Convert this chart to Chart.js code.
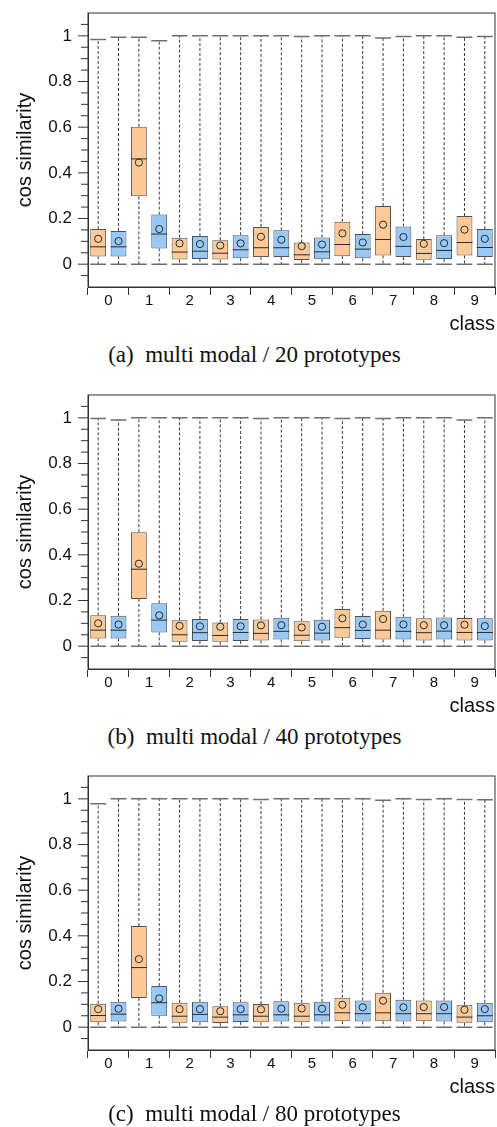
<!DOCTYPE html>
<html>
<head>
<meta charset="utf-8">
<script src="https://cdn.jsdelivr.net/npm/chart.js@4"></script>
<style>
  html, body { margin: 0; padding: 0; background: #fff; }
  body { width: 497px; height: 1127px; position: relative; overflow: hidden; }
  .panel { position: absolute; left: 0; width: 497px; height: 340px; }
  .caption {
    position: absolute; left: 0; width: 509px; text-align: center;
    font-family: "Liberation Serif", "DejaVu Serif", serif; font-size: 23px;
    color: #111; line-height: 26px; white-space: pre;
  }
</style>
</head>
<body>
<div class="panel" style="top:0px"><canvas id="chartA" width="497" height="340"></canvas></div>
<div class="caption" style="top:342px">(a)  multi modal / 20 prototypes</div>
<div class="panel" style="top:382px"><canvas id="chartB" width="497" height="340"></canvas></div>
<div class="caption" style="top:724px">(b)  multi modal / 40 prototypes</div>
<div class="panel" style="top:763px"><canvas id="chartC" width="497" height="340"></canvas></div>
<div class="caption" style="top:1101px">(c)  multi modal / 80 prototypes</div>

<script>
// ---- categories and axis labels ----
const classes = ['0', '1', '2', '3', '4', '5', '6', '7', '8', '9'];
const yMajorTicks = [0, 0.2, 0.4, 0.6, 0.8, 1];
const yTickLabels = ['0', '0.2', '0.4', '0.6', '0.8', '1'];

// ---- (a) 20 prototypes ----
const a1Min  = [0, 0, 0, 0, 0, 0, 0, 0, 0, 0];
const a1Q1   = [0.034, 0.297, 0.020, 0.020, 0.031, 0.018, 0.035, 0.038, 0.019, 0.038];
const a1Med  = [0.076, 0.461, 0.053, 0.048, 0.072, 0.041, 0.086, 0.108, 0.047, 0.095];
const a1Q3   = [0.154, 0.602, 0.116, 0.105, 0.163, 0.095, 0.186, 0.255, 0.110, 0.211];
const a1Max  = [0.984, 0.994, 1.000, 1.000, 1.000, 0.997, 1.000, 0.991, 1.000, 0.994];
const a1Mean = [0.111, 0.445, 0.091, 0.082, 0.120, 0.079, 0.135, 0.173, 0.089, 0.151];

const a2Min  = [0, 0, 0, 0, 0, 0, 0, 0, 0, 0];
const a2Q1   = [0.034, 0.069, 0.023, 0.026, 0.031, 0.022, 0.026, 0.031, 0.023, 0.031];
const a2Med  = [0.076, 0.132, 0.057, 0.063, 0.072, 0.054, 0.066, 0.078, 0.060, 0.073];
const a2Q3   = [0.145, 0.217, 0.123, 0.127, 0.148, 0.117, 0.132, 0.165, 0.127, 0.154];
const a2Max  = [0.994, 0.978, 1.000, 1.000, 1.000, 1.000, 1.000, 0.997, 1.000, 0.997];
const a2Mean = [0.101, 0.154, 0.088, 0.091, 0.107, 0.086, 0.095, 0.119, 0.092, 0.111];

// ---- (b) 40 prototypes ----
const b1Min  = [0, 0, 0, 0, 0, 0, 0, 0, 0, 0];
const b1Q1   = [0.034, 0.207, 0.019, 0.019, 0.025, 0.021, 0.037, 0.029, 0.025, 0.025];
const b1Med  = [0.070, 0.337, 0.050, 0.047, 0.056, 0.048, 0.081, 0.070, 0.059, 0.060];
const b1Q3   = [0.135, 0.499, 0.113, 0.104, 0.117, 0.109, 0.163, 0.155, 0.122, 0.123];
const b1Max  = [0.997, 1.000, 1.000, 1.000, 0.997, 1.000, 0.997, 0.997, 1.000, 0.991];
const b1Mean = [0.100, 0.361, 0.089, 0.085, 0.091, 0.082, 0.122, 0.119, 0.092, 0.094];

const b2Min  = [0, 0, 0, 0, 0, 0, 0, 0, 0, 0];
const b2Q1   = [0.034, 0.060, 0.023, 0.023, 0.029, 0.025, 0.031, 0.029, 0.029, 0.025];
const b2Med  = [0.070, 0.114, 0.059, 0.060, 0.065, 0.057, 0.069, 0.065, 0.066, 0.060];
const b2Q3   = [0.133, 0.188, 0.119, 0.119, 0.125, 0.116, 0.132, 0.129, 0.126, 0.122];
const b2Max  = [0.991, 1.000, 1.000, 1.000, 1.000, 1.000, 1.000, 1.000, 1.000, 1.000];
const b2Mean = [0.095, 0.135, 0.087, 0.087, 0.092, 0.085, 0.095, 0.095, 0.092, 0.088];

// ---- (c) 80 prototypes ----
const c1Min  = [0, 0, 0, 0, 0, 0, 0, 0, 0, 0];
const c1Q1   = [0.022, 0.128, 0.019, 0.018, 0.021, 0.021, 0.026, 0.026, 0.026, 0.019];
const c1Med  = [0.051, 0.261, 0.048, 0.044, 0.048, 0.048, 0.063, 0.063, 0.059, 0.044];
const c1Q3   = [0.103, 0.443, 0.107, 0.092, 0.101, 0.107, 0.129, 0.151, 0.117, 0.098];
const c1Max  = [0.978, 1.000, 1.000, 1.000, 0.997, 1.000, 1.000, 0.994, 0.997, 0.997];
const c1Mean = [0.079, 0.298, 0.079, 0.070, 0.078, 0.082, 0.098, 0.116, 0.088, 0.076];

const c2Min  = [0, 0, 0, 0, 0, 0, 0, 0, 0, 0];
const c2Q1   = [0.025, 0.050, 0.022, 0.023, 0.025, 0.025, 0.025, 0.025, 0.025, 0.022];
const c2Med  = [0.057, 0.107, 0.056, 0.054, 0.054, 0.054, 0.059, 0.059, 0.059, 0.050];
const c2Q3   = [0.111, 0.180, 0.111, 0.109, 0.113, 0.111, 0.117, 0.120, 0.117, 0.107];
const c2Max  = [1.000, 1.000, 1.000, 1.000, 1.000, 1.000, 1.000, 1.000, 1.000, 0.996];
const c2Mean = [0.081, 0.126, 0.079, 0.079, 0.081, 0.081, 0.087, 0.087, 0.088, 0.079];

const ORANGE = '#FDCA97';
const BLUE = '#98C9F6';
const INK = '#2a2a2a';

function boxSeries(fill, min, q1, med, q3, max, mean) {
  return {
    data: q1.map((v, i) => [v, q3[i]]),
    stats: { min, med, max, mean },
    backgroundColor: fill,
    borderColor: '#505050',
    borderWidth: 1,
    borderSkipped: false,
    categoryPercentage: 1.0,
    barPercentage: 0.78
  };
}

// whiskers, caps, medians and means on top of the floating boxes
const boxDecor = {
  id: 'boxDecor',
  beforeDatasetsDraw(chart) {
    const ctx = chart.ctx, y = chart.scales.y;
    chart.data.datasets.forEach((ds, di) => {
      const meta = chart.getDatasetMeta(di);
      meta.data.forEach((bar, j) => {
        const x = bar.x, hw = bar.width / 2;
        const yMin = y.getPixelForValue(ds.stats.min[j]);
        const yMax = y.getPixelForValue(ds.stats.max[j]);
        const yQ1 = y.getPixelForValue(ds.data[j][0]);
        const yQ3 = y.getPixelForValue(ds.data[j][1]);
        ctx.save();
        ctx.strokeStyle = '#3a3a3a';
        ctx.lineWidth = 1;
        ctx.setLineDash([3, 2]);
        ctx.beginPath();
        ctx.moveTo(x, yQ3); ctx.lineTo(x, yMax);
        ctx.moveTo(x, yQ1); ctx.lineTo(x, yMin);
        ctx.stroke();
        ctx.setLineDash([]);
        ctx.strokeStyle = '#6e6e6e';
        ctx.lineWidth = 1.5;
        ctx.beginPath();
        ctx.moveTo(x - hw, yMax); ctx.lineTo(x + hw, yMax);
        ctx.moveTo(x - hw, yMin); ctx.lineTo(x + hw, yMin);
        ctx.stroke();
        ctx.restore();
      });
    });
  },
  afterDatasetsDraw(chart) {
    const ctx = chart.ctx, y = chart.scales.y;
    chart.data.datasets.forEach((ds, di) => {
      const meta = chart.getDatasetMeta(di);
      meta.data.forEach((bar, j) => {
        const x = bar.x, hw = bar.width / 2;
        const yMed = y.getPixelForValue(ds.stats.med[j]);
        const yMean = y.getPixelForValue(ds.stats.mean[j]);
        ctx.save();
        ctx.strokeStyle = INK;
        ctx.lineWidth = 1;
        ctx.beginPath();
        ctx.moveTo(x - hw, yMed); ctx.lineTo(x + hw, yMed);
        ctx.stroke();
        ctx.beginPath();
        ctx.arc(x, yMean, 3.6, 0, Math.PI * 2);
        ctx.stroke();
        ctx.restore();
      });
    });
  },
  afterDraw(chart) {
    const ctx = chart.ctx, a = chart.chartArea, y = chart.scales.y;
    ctx.save();
    ctx.strokeStyle = '#333';
    ctx.lineWidth = 1;
    // frame around the plotting area
    ctx.strokeRect(a.left, a.top, a.right - a.left, a.bottom - a.top);
    // y tick marks: long at labelled values, short in between
    ctx.beginPath();
    y.ticks.forEach(t => {
      const py = y.getPixelForValue(t.value);
      const len = yMajorTicks.some(m => Math.abs(m - t.value) < 1e-9) ? 10 : 7;
      ctx.moveTo(a.left - len, py); ctx.lineTo(a.left, py);
    });
    ctx.stroke();
    ctx.restore();
  }
};

function makeChart(id, datasets) {
  return new Chart(document.getElementById(id), {
    type: 'bar',
    data: { labels: classes, datasets },
    options: {
      responsive: false,
      animation: false,
      events: [],
      layout: { padding: { top: 13, right: 2, left: 0, bottom: 0 } },
      plugins: { legend: { display: false }, tooltip: { enabled: false } },
      scales: {
        x: {
          offset: true,
          grid: { offset: true, drawOnChartArea: false, drawTicks: true, tickLength: 8, color: '#333' },
          border: { display: true, color: '#333' },
          ticks: { font: { family: 'Liberation Sans', size: 15 }, color: '#111', padding: -3, maxRotation: 0 },
          title: {
            display: true, text: 'class', align: 'end',
            font: { family: 'Liberation Sans', size: 20 }, color: '#111',
            padding: { top: 0, bottom: 4 }
          },
          afterFit(scale) {
            scale.height = 53;
            scale.paddingLeft = 0; scale.paddingRight = 0;
          }
        },
        y: {
          min: -0.1,
          max: 1.1,
          afterBuildTicks(scale) {
            const ticks = [];
            for (let k = -1; k <= 21; k++) ticks.push({ value: Math.round(k * 5) / 100 });
            scale.ticks = ticks;
          },
          grid: { drawOnChartArea: false, drawTicks: false },
          border: { display: true, color: '#333' },
          ticks: {
            autoSkip: false,
            padding: 16,
            font: { family: 'Liberation Sans', size: 17 },
            color: '#111',
            callback(value) {
              const k = yMajorTicks.findIndex(m => Math.abs(m - value) < 1e-9);
              return k >= 0 ? yTickLabels[k] : '';
            }
          },
          title: {
            display: true, text: 'cos similarity',
            font: { family: 'Liberation Sans', size: 20 }, color: '#111',
            padding: { top: 13, bottom: 0 }
          },
          afterFit(scale) {
            scale.width = 88;
            scale.paddingTop = 0; scale.paddingBottom = 0;
          }
        }
      }
    },
    plugins: [boxDecor]
  });
}

makeChart('chartA', [
  boxSeries(ORANGE, a1Min, a1Q1, a1Med, a1Q3, a1Max, a1Mean),
  boxSeries(BLUE, a2Min, a2Q1, a2Med, a2Q3, a2Max, a2Mean)
]);
makeChart('chartB', [
  boxSeries(ORANGE, b1Min, b1Q1, b1Med, b1Q3, b1Max, b1Mean),
  boxSeries(BLUE, b2Min, b2Q1, b2Med, b2Q3, b2Max, b2Mean)
]);
makeChart('chartC', [
  boxSeries(ORANGE, c1Min, c1Q1, c1Med, c1Q3, c1Max, c1Mean),
  boxSeries(BLUE, c2Min, c2Q1, c2Med, c2Q3, c2Max, c2Mean)
]);
</script>
</body>
</html>
